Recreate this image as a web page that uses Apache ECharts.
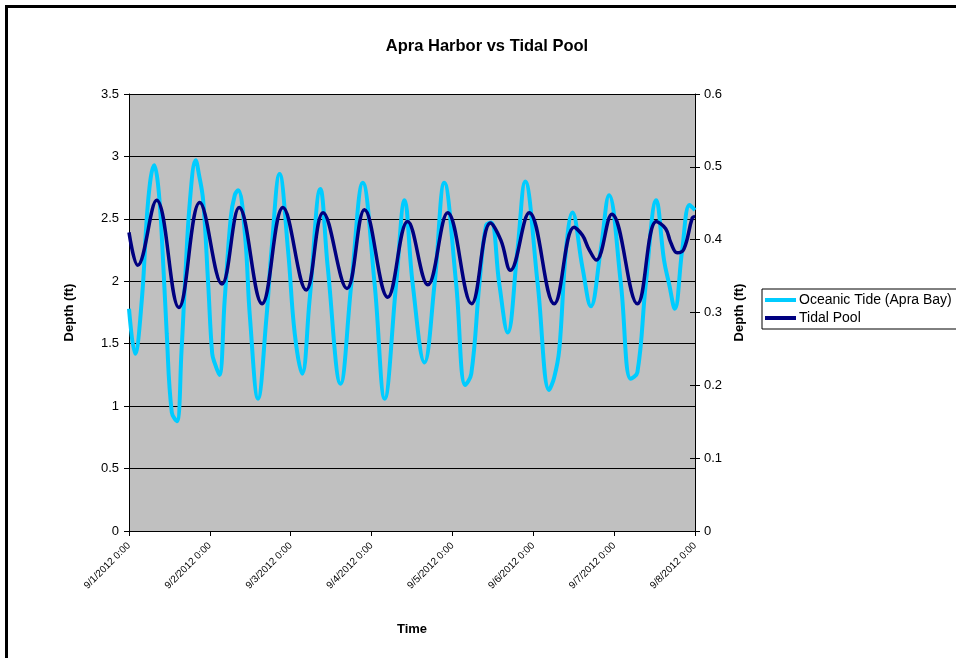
<!DOCTYPE html>
<html>
<head>
<meta charset="utf-8">
<script src="https://cdn.jsdelivr.net/npm/echarts@6/dist/echarts.min.js"></script>
<style>
html,body{margin:0;padding:0;background:#fff;}
#chart{width:956px;height:658px;}
</style>
</head>
<body>
<div id="chart"></div>
<script>
// Tick labels (one per day, hours 0..168)
const dateLabels = ["9/1/2012 0:00","9/2/2012 0:00","9/3/2012 0:00","9/4/2012 0:00","9/5/2012 0:00","9/6/2012 0:00","9/7/2012 0:00","9/8/2012 0:00"];

// Oceanic Tide (Apra Bay): hours since 9/1/2012 0:00, depth in ft (left axis)
const oceanHours = [0,1.8,3.8,5.7,7.5,8.6,9.7,11.2,12.7,14.2,15.6,16.6,18.1,19.8,20.8,22,23.5,24.7,25.5,26.8,28.4,30.2,31.4,32.4,34.4,35.9,38.3,40.8,42.3,44.7,47.2,49.2,51.4,53.6,56.8,59,62.8,66,69.4,72.9,75.9,79.3,81.8,84.2,87.7,90.7,93.6,97.1,99.8,101.6,104,106,107.5,109.9,112.4,115.3,117.6,121.3,124.7,126.2,127.7,129.7,131.6,134.6,137.1,140,142.5,146,148.9,150.9,153.4,156.5,158.8,160.3,162,164.2,166.4,168];
const oceanDepth = [1.78,1.42,1.85,2.65,2.93,2.78,2.38,1.58,0.95,0.88,1.45,1.98,2.65,2.97,2.85,2.65,1.98,1.42,1.34,1.25,1.85,2.51,2.69,2.73,2.38,1.71,1.06,1.71,2.25,2.86,2.25,1.58,1.26,1.85,2.74,2.11,1.18,1.98,2.79,1.98,1.06,1.98,2.65,1.98,1.35,1.98,2.79,1.98,1.17,1.26,1.98,2.45,2.47,1.98,1.59,2.25,2.80,1.98,1.13,1.23,1.45,2.25,2.55,2.11,1.80,2.25,2.69,1.98,1.22,1.27,1.98,2.65,2.17,1.98,1.78,2.25,2.61,2.57];

// Tidal Pool: hours since 9/1/2012 0:00, depth in ft (right axis)
const poolHours = [0,2.6,8.2,14.8,21,27.6,32.7,39.5,45.7,52.6,57.6,64.7,69.9,76.8,82.7,88.7,94.6,101.7,107.3,110.4,113.2,118.8,126.2,132.1,134.6,136.5,138.7,143.3,150.9,156.5,159.3,160.8,162.7,164.7,167.2,168];
const poolDepth = [0.410,0.365,0.454,0.307,0.451,0.339,0.444,0.312,0.444,0.331,0.437,0.333,0.441,0.321,0.425,0.338,0.437,0.312,0.423,0.399,0.358,0.437,0.312,0.417,0.406,0.387,0.372,0.435,0.312,0.425,0.415,0.396,0.382,0.387,0.430,0.432];

const leftTicks = {min:0, max:3.5, interval:0.5};
const rightTicks = {min:0, max:0.6, interval:0.1};

const FONT = "'Liberation Sans', Arial, sans-serif";
const chart = echarts.init(document.getElementById('chart'), null, {renderer:'canvas'});

const oceanData = oceanHours.map((h,i)=>[h, oceanDepth[i]]);
const poolData = poolHours.map((h,i)=>[h, poolDepth[i]]);

chart.setOption({
  animation:false,
  backgroundColor:'#ffffff',
  textStyle:{fontFamily:FONT},
  title:{
    text:'Apra Harbor vs Tidal Pool',
    left:482, top:33, textAlign:'center',
    textStyle:{fontFamily:FONT, fontSize:16.5, fontWeight:'bold', color:'#000'}
  },
  graphic:[{
    type:'rect', silent:true, z:100,
    shape:{x:6.5, y:6.5, width:1000, height:700},
    style:{fill:null, stroke:'#000', lineWidth:3}
  }],
  legend:{
    orient:'vertical',
    left:762, top:289,
    itemWidth:31, itemHeight:4, itemGap:4,
    padding:[4,8,4,3],
    borderColor:'#000', borderWidth:1,
    backgroundColor:'#fff',
    textStyle:{fontFamily:FONT, fontSize:14, color:'#000', padding:[0,0,0,-2]},
    data:[
      {name:'Oceanic Tide (Apra Bay)', icon:'rect'},
      {name:'Tidal Pool', icon:'rect'}
    ]
  },
  grid:{
    left:129, right:261, top:94, bottom:127,
    show:true, backgroundColor:'#C0C0C0', borderWidth:0
  },
  xAxis:{
    type:'value', min:0, max:168, interval:24,
    name:'Time', nameLocation:'middle', nameGap:92,
    nameTextStyle:{fontFamily:FONT, fontSize:13, fontWeight:'bold', color:'#000'},
    axisLine:{lineStyle:{color:'#000', width:1}},
    axisTick:{show:true, length:5, lineStyle:{color:'#000'}},
    splitLine:{show:false},
    axisLabel:{
      rotate:45, margin:13, color:'#000', fontFamily:FONT, fontSize:10,
      formatter:(v)=>dateLabels[Math.round(v/24)]
    }
  },
  yAxis:[{
    type:'value', min:leftTicks.min, max:leftTicks.max, interval:leftTicks.interval,
    name:'Depth (ft)', nameLocation:'middle', nameGap:53, nameRotate:90,
    nameTextStyle:{fontFamily:FONT, fontSize:13, fontWeight:'bold', color:'#000'},
    axisLine:{show:true, lineStyle:{color:'#000'}},
    axisTick:{show:true, length:5, lineStyle:{color:'#000'}},
    axisLabel:{color:'#000', fontFamily:FONT, fontSize:13, margin:10},
    splitLine:{show:true, lineStyle:{color:'#000', width:1}}
  },{
    type:'value', min:rightTicks.min, max:rightTicks.max, interval:rightTicks.interval,
    position:'right',
    name:'Depth (ft)', nameLocation:'middle', nameGap:38, nameRotate:90,
    nameTextStyle:{fontFamily:FONT, fontSize:13, fontWeight:'bold', color:'#000'},
    axisLine:{show:true, lineStyle:{color:'#000'}},
    axisTick:{show:true, length:5, lineStyle:{color:'#000'}},
    axisLabel:{color:'#000', fontFamily:FONT, fontSize:13, margin:9},
    splitLine:{show:false}
  },{
    type:'value', min:rightTicks.min, max:rightTicks.max, interval:rightTicks.interval,
    position:'right',
    axisLine:{show:false},
    axisTick:{show:true, inside:true, length:5, lineStyle:{color:'#000'}},
    axisLabel:{show:false},
    splitLine:{show:false}
  }],
  series:[{
    name:'Oceanic Tide (Apra Bay)', type:'line', yAxisIndex:0,
    data:oceanData, showSymbol:false, smooth:0.4,
    color:'#00CCFF',
    lineStyle:{color:'#00CCFF', width:4}
  },{
    name:'Tidal Pool', type:'line', yAxisIndex:1,
    data:poolData, showSymbol:false, smooth:0.4,
    color:'#000080',
    lineStyle:{color:'#000080', width:3.5}
  }]
});
</script>
</body>
</html>
